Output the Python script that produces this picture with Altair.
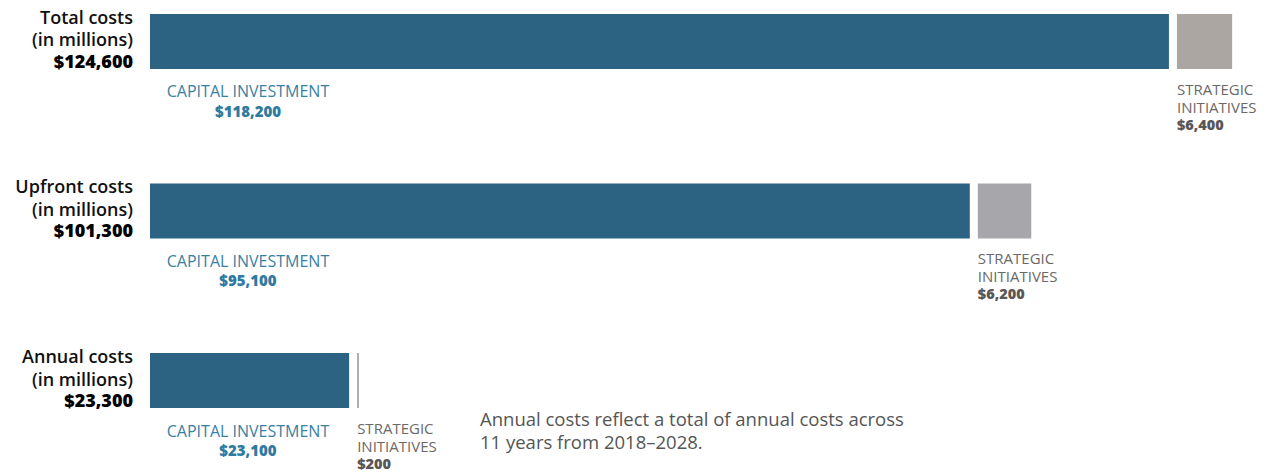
import altair as alt
import pandas as pd

rows = ["Total costs", "Upfront costs", "Annual costs"]
totals = [124600, 101300, 23300]
capital = [118200, 95100, 23100]
strategic = [6400, 6200, 200]
strategic_colors = ["#aba6a2", "#a7a7ab", "#a3a3a3"]
note = ["Annual costs reflect a total of annual costs across", "11 years from 2018\u20132028."]

GAP = 930  # visual gap between the two bars, in data units

def money(v):
    return "${:,}".format(v)

df = pd.DataFrame({
    "row": list(range(len(rows))),
    "name": rows,
    "total": totals,
    "capital": capital,
    "strategic": strategic,
    "scolor": strategic_colors,
    "total_lbl": [money(v) for v in totals],
    "cap_lbl": [money(v) for v in capital],
    "str_lbl": [money(v) for v in strategic],
})
df["zero"] = 0
df["s0"] = df["capital"] + GAP
df["s1"] = df["s0"] + df["strategic"]

FONT = "Open Sans"
xs = alt.Scale(domain=[-17400, 130620], range=[0, 1276], nice=False, zero=False, padding=0)
ys = alt.Scale(domain=[-0.2448, 2.5516], range=[0, 474], nice=False, zero=False, padding=0)

def X(f):
    return alt.X(f, type="quantitative", scale=xs, axis=None)

def Y():
    return alt.Y("row:Q", scale=ys, axis=None)

base = alt.Chart(df)

cap_bar = base.mark_bar(size=55, color="#2c6382").encode(x=X("zero"), x2="capital", y=Y())
str_bar = base.mark_bar(size=55).encode(
    x=X("s0"), x2="s1", y=Y(), color=alt.Color("scolor:N", scale=None)
)

def left(dy, field=None, value=None, weight=600, color="#111111"):
    txt = alt.value(value) if value is not None else alt.Text(field, type="nominal")
    return base.mark_text(align="right", baseline="middle", dx=-17, dy=dy, font=FONT,
                          fontSize=18, fontWeight=weight, color=color).encode(
        x=X("zero"), y=Y(), text=txt)

title_txt = left(-22.5, field="name")
mill_txt = left(0, value="(in millions)")
total_txt = left(21.5, field="total_lbl", weight=800, color="#000000")

cap_name = base.mark_text(align="center", baseline="middle", dx=98, dy=51, font=FONT,
                          fontSize=16, color="#3a80a3").encode(
    x=X("zero"), y=Y(), text=alt.value("CAPITAL INVESTMENT"))
cap_val = base.mark_text(align="center", baseline="middle", dx=98, dy=70.5, font=FONT,
                         fontSize=15, fontWeight=800, color="#2f7aa0").encode(
    x=X("zero"), y=Y(), text="cap_lbl")

def strat(dy, field=None, value=None, weight=400, size=15, color="#6b6868"):
    txt = alt.value(value) if value is not None else alt.Text(field, type="nominal")
    return base.mark_text(align="left", baseline="middle", dy=dy, font=FONT,
                          fontSize=size, fontWeight=weight, color=color).encode(
        x=X("s0"), y=Y(), text=txt)

str_name1 = strat(48.5, value="STRATEGIC")
str_name2 = strat(66.5, value="INITIATIVES")
str_val = strat(84.5, field="str_lbl", weight=800, size=14.5, color="#5a5656")

note_df = pd.DataFrame({"row": [2, 2], "zero": [0, 0], "t": note})

def note_line(i, dy):
    return alt.Chart(note_df.iloc[[i]]).mark_text(
        align="left", baseline="middle", dx=330, dy=dy, font=FONT, fontSize=18.5,
        color="#555555").encode(x=X("zero"), y=Y(), text="t")

note_a = note_line(0, 39)
note_b = note_line(1, 62.5)

chart = alt.layer(cap_bar, str_bar, title_txt, mill_txt, total_txt, cap_name, cap_val,
                  str_name1, str_name2, str_val, note_a, note_b).properties(
    width=1276, height=474, autosize=alt.AutoSizeParams(type="none"), padding=0
).configure_view(stroke=None)

chart.save("out.html", embed_options={"renderer": "svg", "actions": False})
